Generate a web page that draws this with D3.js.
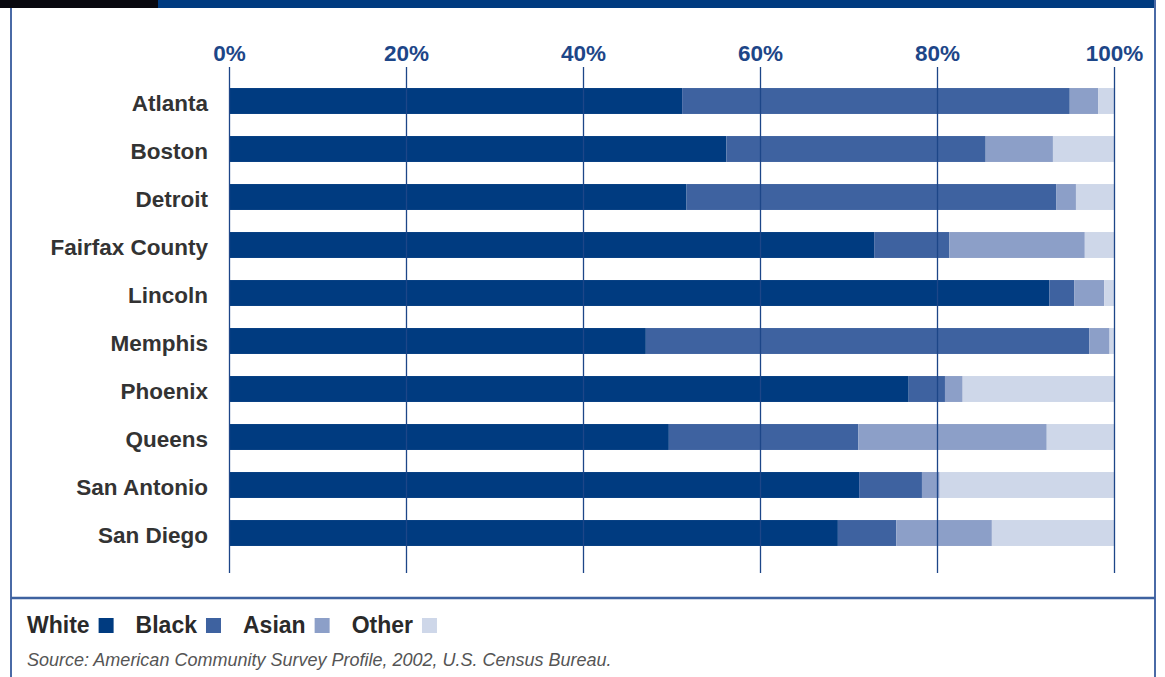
<!DOCTYPE html>
<html>
<head>
<meta charset="utf-8">
<script src="https://cdn.jsdelivr.net/npm/d3@7"></script>
<style>
  html, body { margin: 0; padding: 0; background: #fff; }
  svg { display: block; font-family: "Liberation Sans", Arial, Helvetica, sans-serif; }
</style>
</head>
<body>
<div id="chart"></div>
<script>
// city rows, top to bottom
var cities = ["Atlanta", "Boston", "Detroit", "Fairfax County", "Lincoln",
              "Memphis", "Phoenix", "Queens", "San Antonio", "San Diego"];
var groups = ["White", "Black", "Asian", "Other"];

// share of population, percent
var white = [51.2, 56.2, 51.7, 72.9, 92.7, 47.1, 76.8, 49.7, 71.2, 68.8];
var black = [43.8, 29.3, 41.8,  8.5,  2.8, 50.1,  4.1, 21.4,  7.1,  6.6];
var asian = [ 3.2,  7.6,  2.2, 15.3,  3.4,  2.3,  2.0, 21.3,  2.0, 10.8];
var other = [ 1.8,  6.9,  4.3,  3.3,  1.1,  0.5, 17.1,  7.6, 19.7, 13.8];

var tickValues = [0, 20, 40, 60, 80, 100];
var sourceText = "Source: American Community Survey Profile, 2002, U.S. Census Bureau.";

var colors = ["#003b80", "#3e62a0", "#8c9fc8", "#ced7e9"];

var width = 1165, height = 677;

var rows = cities.map(function(c, i){
    return { city: c, White: white[i], Black: black[i], Asian: asian[i], Other: other[i] };
});

var svg = d3.select("#chart")
    .append("svg")
        .attr("width", width)
        .attr("height", height);

// frame
svg.append("rect")
    .attr("x", 0).attr("y", 0)
    .attr("width", width).attr("height", height)
    .attr("fill", "#fff");

svg.append("rect")
    .attr("x", 0).attr("y", 0)
    .attr("width", 158).attr("height", 8)
    .attr("fill", "#08080f");
svg.append("rect")
    .attr("x", 158).attr("y", 0)
    .attr("width", 998).attr("height", 8)
    .attr("fill", "#003b80");

svg.append("line")
    .attr("x1", 11).attr("x2", 11).attr("y1", 8).attr("y2", height)
    .attr("stroke", "#4a6aa6").attr("stroke-width", 2);
svg.append("line")
    .attr("x1", 1155).attr("x2", 1155).attr("y1", 0).attr("y2", height)
    .attr("stroke", "#4a6aa6").attr("stroke-width", 2);
svg.append("line")
    .attr("x1", 11).attr("x2", 1155).attr("y1", 598).attr("y2", 598)
    .attr("stroke", "#3e62a0").attr("stroke-width", 2.5);

var x = d3.scaleLinear()
    .domain([0, 100])
    .range([229, 1114]);

var y = d3.scaleBand()
    .domain(cities)
    .range([77, 557])
    .paddingInner(0.46)
    .paddingOuter(0.23);

var color = d3.scaleOrdinal()
    .domain(groups)
    .range(colors);

var stack = d3.stack().keys(groups);
var series = stack(rows);

/* ------- BARS -------*/
svg.append("g")
    .attr("class", "bars")
    .selectAll("g")
    .data(series)
    .enter()
    .append("g")
        .attr("fill", function(d){ return color(d.key); })
    .selectAll("rect")
    .data(function(d){ return d; })
    .enter()
    .append("rect")
        .attr("x", function(d){ return x(d[0]); })
        .attr("width", function(d){ return x(d[1]) - x(d[0]); })
        .attr("y", function(d){ return y(d.data.city); })
        .attr("height", y.bandwidth());

/* ------- GRID + TOP AXIS -------*/
var axis = d3.axisTop(x)
    .tickValues(tickValues)
    .tickSize(-(573 - 67))
    .tickPadding(6)
    .tickFormat(function(d){ return d + "%"; });

var gAxis = svg.append("g")
    .attr("class", "axis")
    .attr("transform", "translate(0,67)")
    .call(axis);

gAxis.select(".domain").remove();
gAxis.selectAll(".tick line")
    .attr("stroke", "#1d4688")
    .attr("stroke-width", 1.3);
gAxis.selectAll(".tick text")
    .attr("fill", "#1d4688")
    .style("font-size", "22.5px")
    .style("font-weight", "bold")
    .attr("dy", "0");

/* ------- CITY LABELS -------*/
svg.append("g")
    .attr("class", "labels")
    .selectAll("text")
    .data(cities)
    .enter()
    .append("text")
        .attr("x", 208)
        .attr("y", function(d){ return y(d) + y.bandwidth() / 2; })
        .attr("dy", "0.45em")
        .attr("text-anchor", "end")
        .attr("fill", "#333")
        .style("font-size", "22.5px")
        .style("font-weight", "bold")
        .text(function(d){ return d; });

/* ------- LEGEND -------*/
var legend = svg.append("g")
    .attr("class", "legend")
    .attr("transform", "translate(27,625)");

var lx = 0;
groups.forEach(function(g){
    var t = legend.append("text")
        .attr("x", lx)
        .attr("y", 0)
        .attr("dy", "0.36em")
        .attr("fill", "#2a2a2a")
        .style("font-size", "23px")
        .style("font-weight", "bold")
        .text(g);
    var w = t.node().getComputedTextLength();
    legend.append("rect")
        .attr("x", lx + w + 9)
        .attr("y", -7)
        .attr("width", 15)
        .attr("height", 15)
        .attr("fill", color(g));
    lx += w + 9 + 15 + 22;
});

svg.append("text")
    .attr("x", 27)
    .attr("y", 660)
    .attr("dy", "0.36em")
    .attr("fill", "#555")
    .style("font-size", "18px")
    .style("font-style", "italic")
    .text(sourceText);
</script>
</body>
</html>
